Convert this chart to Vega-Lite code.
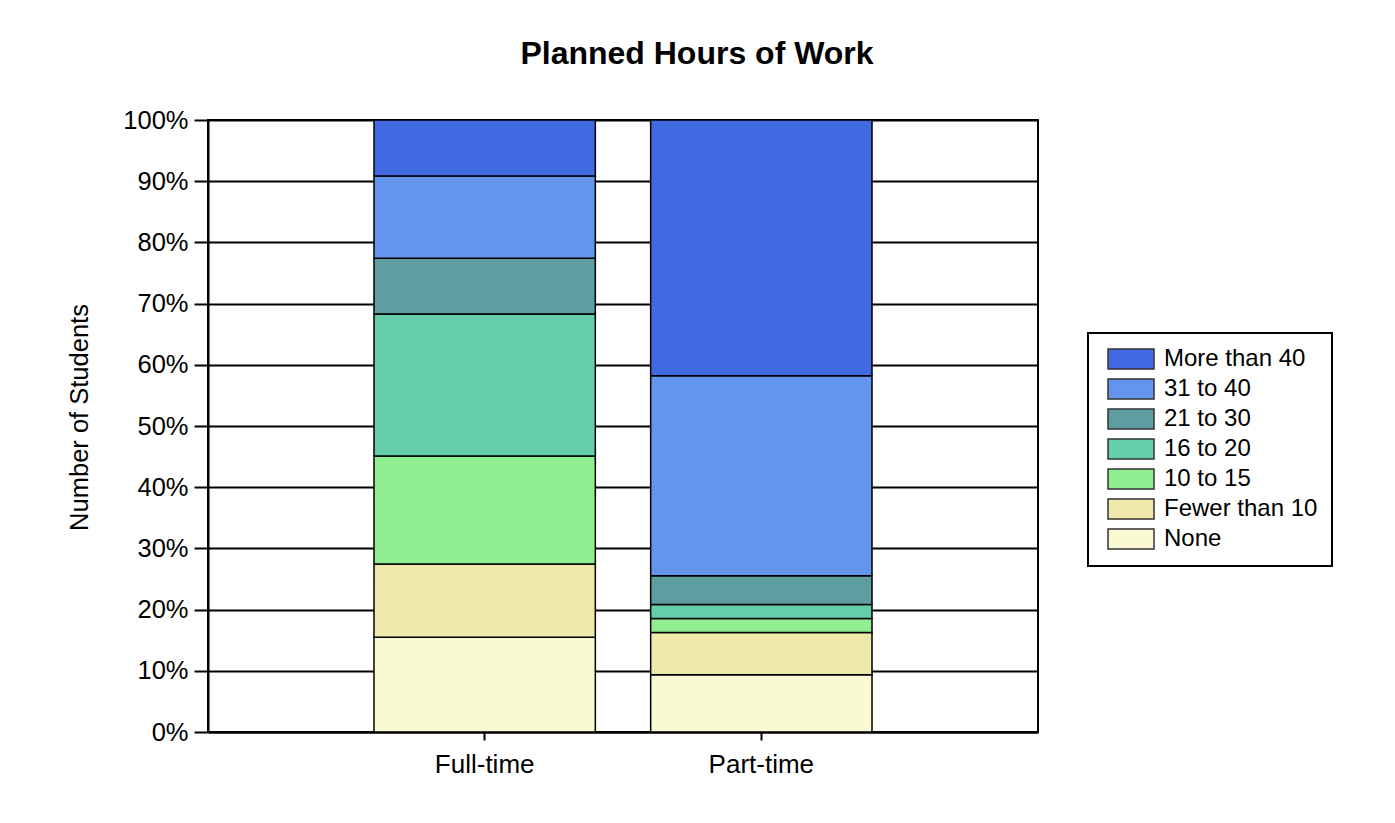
{
  "$schema": "https://vega.github.io/schema/vega-lite/v6.json",
  "width": 830,
  "height": 612,
  "autosize": {"type": "none"},
  "padding": {"left": 208, "top": 120, "right": 357, "bottom": 91},
  "background": "white",
  "title": {"text": "Planned Hours of Work", "fontSize": 32, "fontWeight": "bold", "font": "Liberation Sans", "color": "black", "anchor": "middle", "dx": 74, "offset": 37},
  "data": {"values": [
    {"status": "Full-time", "hours": "None", "idx": 1, "pct": 15.5},
    {"status": "Full-time", "hours": "Fewer than 10", "idx": 2, "pct": 11.95},
    {"status": "Full-time", "hours": "10 to 15", "idx": 3, "pct": 17.65},
    {"status": "Full-time", "hours": "16 to 20", "idx": 4, "pct": 23.2},
    {"status": "Full-time", "hours": "21 to 30", "idx": 5, "pct": 9.1},
    {"status": "Full-time", "hours": "31 to 40", "idx": 6, "pct": 13.45},
    {"status": "Full-time", "hours": "More than 40", "idx": 7, "pct": 9.15},
    {"status": "Part-time", "hours": "None", "idx": 1, "pct": 9.35},
    {"status": "Part-time", "hours": "Fewer than 10", "idx": 2, "pct": 6.9},
    {"status": "Part-time", "hours": "10 to 15", "idx": 3, "pct": 2.3},
    {"status": "Part-time", "hours": "16 to 20", "idx": 4, "pct": 2.3},
    {"status": "Part-time", "hours": "21 to 30", "idx": 5, "pct": 4.7},
    {"status": "Part-time", "hours": "31 to 40", "idx": 6, "pct": 32.65},
    {"status": "Part-time", "hours": "More than 40", "idx": 7, "pct": 41.8}
  ]},
  "mark": {"type": "bar", "stroke": "black", "strokeWidth": 1.5},
  "encoding": {
    "x": {
      "field": "status", "type": "nominal",
      "scale": {"paddingInner": 0.2, "paddingOuter": 0.6},
      "axis": {"title": null, "labelAngle": 0, "labelFont": "Liberation Sans", "labelFontSize": 26, "labelColor": "black", "labelPadding": 11, "tickSize": 8, "tickWidth": 2, "tickColor": "black", "domainColor": "black", "domainWidth": 2, "grid": false}
    },
    "y": {
      "field": "pct", "type": "quantitative", "stack": "normalize",
      "axis": {"title": "Number of Students", "titleFont": "Liberation Sans", "titleFontSize": 25.5, "titleFontWeight": "normal", "titleColor": "black", "titleX": -116, "titleY": 297,
        "values": [0, 0.1, 0.2, 0.3, 0.4, 0.5, 0.6, 0.7, 0.8, 0.9, 1], "format": ".0%",
        "labelFont": "Liberation Sans", "labelFontSize": 25.5, "labelColor": "black", "labelPadding": 6, "tickSize": 14, "tickWidth": 2, "tickColor": "black",
        "domainColor": "black", "domainWidth": 2, "grid": true, "gridColor": "black", "gridWidth": 2, "gridOpacity": 1}
    },
    "color": {
      "field": "hours", "type": "nominal",
      "scale": {
        "domain": ["More than 40", "31 to 40", "21 to 30", "16 to 20", "10 to 15", "Fewer than 10", "None"],
        "range": ["#4169E1", "#6495ED", "#5F9EA0", "#66CDAA", "#90EE90", "#EEE8AA", "#FAFAD2"]
      },
      "legend": {
        "title": null, "orient": "none", "legendX": 880, "legendY": 213,
        "strokeColor": "black", "padding": 14, "rowPadding": 4,
        "symbolType": "M-2.3,-1H2.3V1H-2.3Z", "symbolSize": 400, "symbolOffset": 17, "symbolStrokeColor": "#333333", "symbolStrokeWidth": 1.5, "symbolOpacity": 1,
        "labelFont": "Liberation Sans", "labelFontSize": 24, "labelColor": "black", "labelOffset": 21, "labelLimit": 300
      }
    },
    "order": {"field": "idx", "type": "quantitative"}
  },
  "config": {
    "view": {"stroke": "black", "strokeWidth": 2},
    "legend": {"strokeWidth": 2}
  }
}
